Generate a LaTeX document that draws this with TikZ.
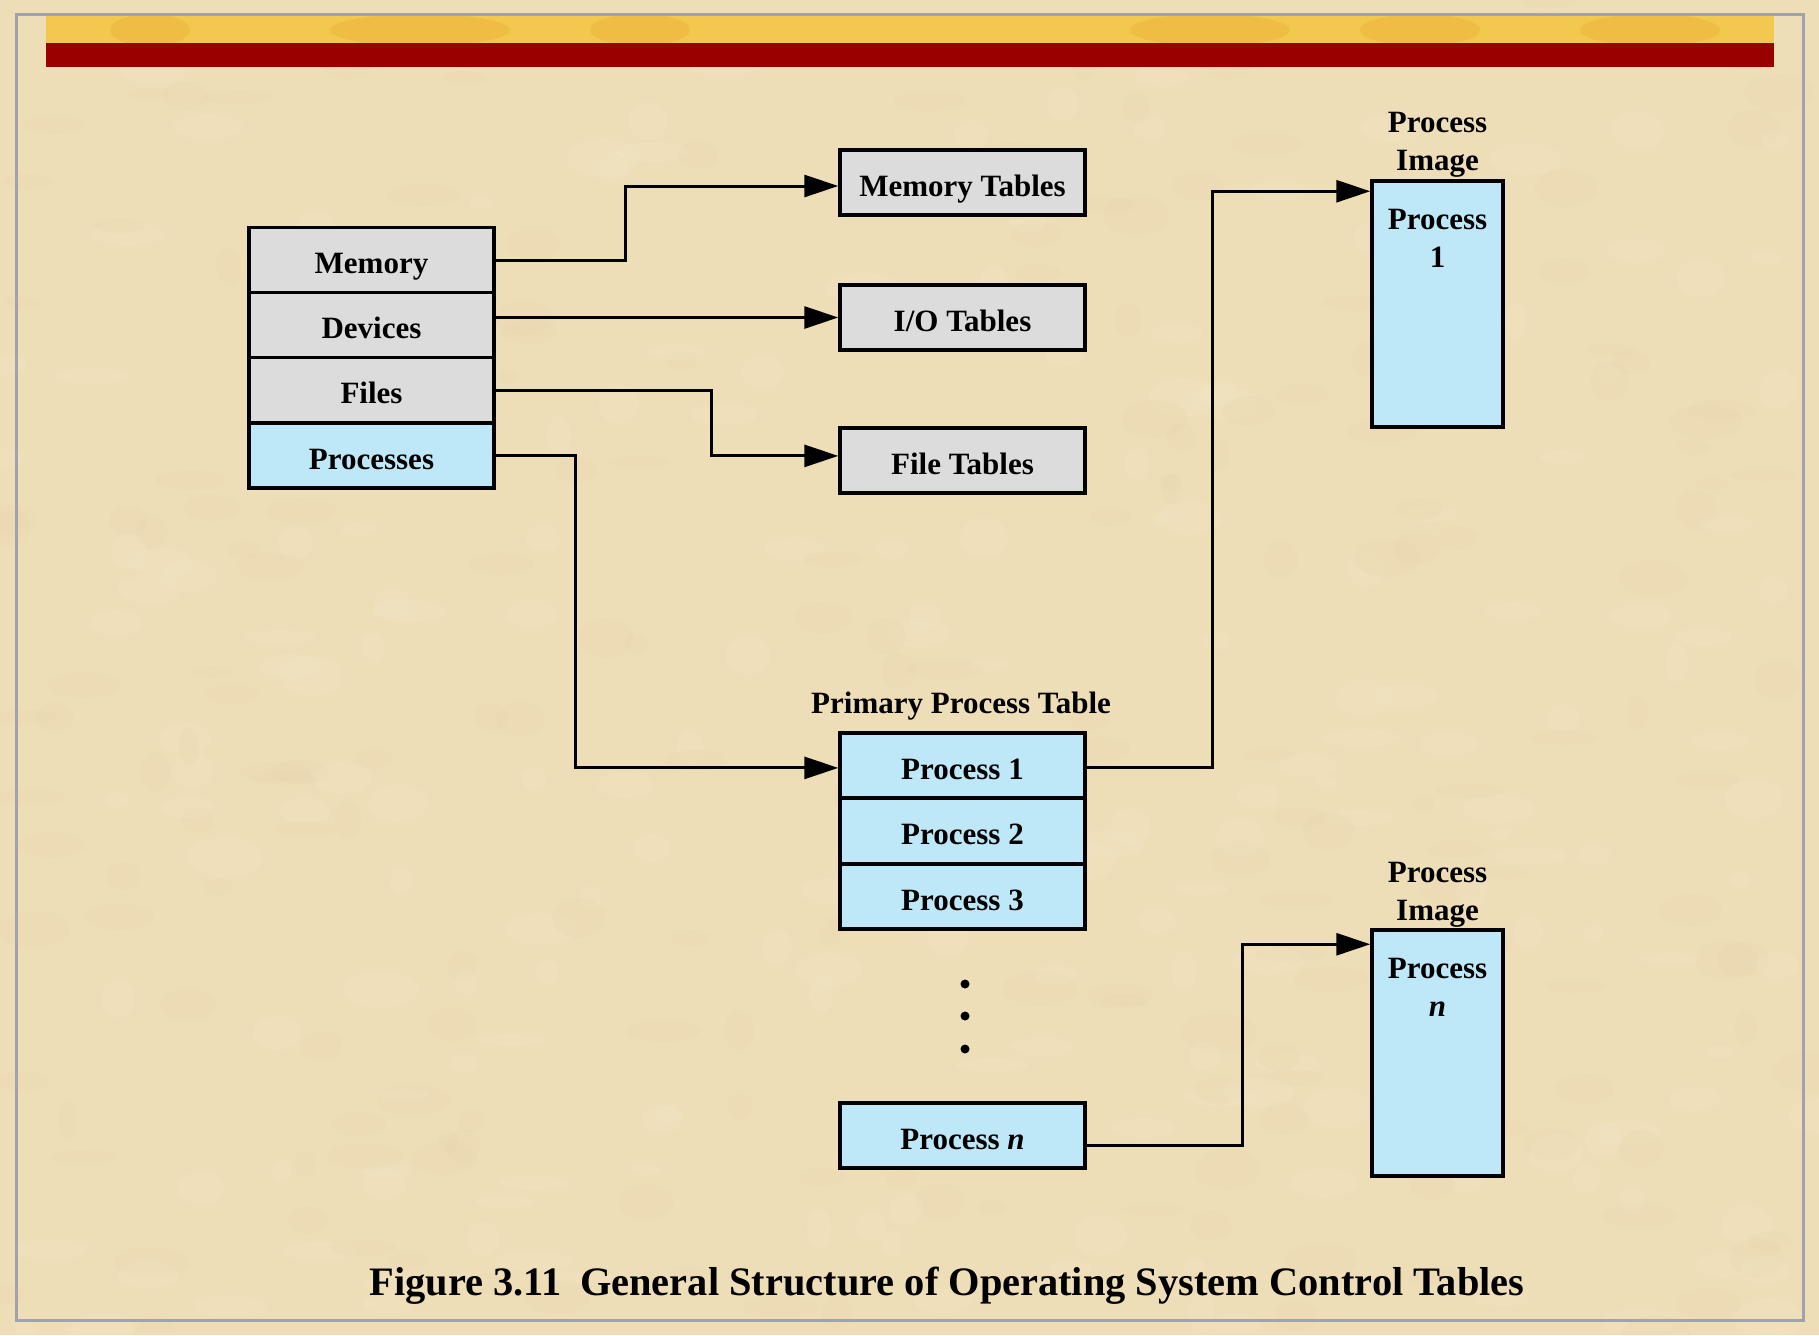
\documentclass[tikz,border=0pt]{standalone}
\usepackage{fontspec}
\setmainfont{Liberation Serif}
\usetikzlibrary{arrows.meta}

\definecolor{paper}{RGB}{238,222,184}
\definecolor{paperlight}{RGB}{248,236,208}
\definecolor{paperdark}{RGB}{226,204,160}
\definecolor{framegray}{RGB}{160,164,170}
\definecolor{bandyellow}{RGB}{243,200,78}
\definecolor{bandorange}{RGB}{230,160,40}
\definecolor{barred}{RGB}{153,0,0}
\definecolor{cellgray}{RGB}{220,220,220}
\definecolor{cellblue}{RGB}{190,232,248}

\newcommand{\lblfont}{\fontsize{15.5}{19}\selectfont\bfseries}
\newcommand{\capfont}{\fontsize{20.2}{24}\selectfont\bfseries}

\begin{document}
\begin{tikzpicture}[x=0.5pt,y=-0.5pt,
  cell/.style={draw, line width=1.75pt, minimum width=122.5pt, minimum height=32.5pt,
               inner sep=0pt, text height=15pt, text depth=1.3pt, font=\lblfont},
  greycell/.style={cell, fill=cellgray},
  bluecell/.style={cell, fill=cellblue},
  imagebox/.style={draw, line width=1.75pt, fill=cellblue, minimum width=65.5pt,
                   minimum height=123pt, inner sep=0pt},
  lbl/.style={font=\lblfont, align=center, inner sep=0pt},
  conn/.style={line width=1.5pt, -{Triangle[length=17pt,width=11pt]}}]

% page background with a faint mottled texture
\useasboundingbox (0,0) rectangle (1819,1335);
\fill[paper] (0,0) rectangle (1819,1335);
\pgfmathsetseed{4711}
\begin{scope}
  \clip (0,0) rectangle (1819,1335);
  \foreach \i in {1,...,420} {
    \pgfmathsetmacro{\px}{random(0,1819)}
    \pgfmathsetmacro{\py}{random(0,1335)}
    \pgfmathsetmacro{\rx}{random(10,38)}
    \pgfmathsetmacro{\ry}{random(6,20)}
    \pgfmathsetmacro{\tone}{random(0,1)}
    \ifdim\tone pt>0.5pt
      \fill[paperlight, opacity=0.16] (\px,\py) ellipse ({\rx} and {\ry});
    \else
      \fill[paperdark, opacity=0.12] (\px,\py) ellipse ({\rx} and {\ry});
    \fi
  }
\end{scope}
\draw[framegray, line width=1.5pt] (16,14) rectangle (1803,1320);

% title band
\fill[bandyellow] (46,16) rectangle (1774,43);
\begin{scope}
  \clip (46,16) rectangle (1774,43);
  \foreach \bx/\bw in {420/90, 640/50, 1210/80, 1420/60, 1650/70, 150/40} {
    \fill[bandorange, opacity=0.25] (\bx,30) ellipse ({\bw} and 16);
  }
\end{scope}
\fill[barred] (46,43) rectangle (1774,67);

% resource table (left stack)
\node[greycell] (mem) at (371.5,260)   {Memory};
\node[greycell] (dev) at (371.5,325)   {Devices};
\node[greycell] (fil) at (371.5,390)   {Files};
\node[bluecell] (prc) at (371.5,455.5) {Processes};

% per-resource tables
\node[greycell] (memtab) at (962.5,182.5) {Memory Tables};
\node[greycell] (iotab)  at (962.5,317.5) {I/O Tables};
\node[greycell] (filtab) at (962.5,460.5) {File Tables};

% primary process table
\node[lbl] (ppt) at (961,706.5) {Primary Process Table};
\node[bluecell] (pp1) at (962.5,765.5) {Process 1};
\node[bluecell] (pp2) at (962.5,831)   {Process 2};
\node[bluecell] (pp3) at (962.5,896.5) {Process 3};
\node[bluecell] (ppn) at (962.5,1135.5) {Process {\itshape n}};

% ellipsis between rows
\fill (965,984) circle (4.5);
\fill (965,1016) circle (4.5);
\fill (965,1049) circle (4.5);

% process images
\node[imagebox] (img1) at (1437.5,304) {};
\node[lbl] (img1cap) at ([yshift=17pt]img1.north) {Process\\Image};
\node[lbl] (img1txt) at ([yshift=-29.5pt]img1.north) {Process\\1};

\node[imagebox] (imgn) at (1437.5,1053) {};
\node[lbl] (imgncap) at ([yshift=17pt]imgn.north) {Process\\Image};
\node[lbl] (imgntxt) at ([yshift=-29.5pt]imgn.north) {Process\\{\itshape n}};

% connectors
\draw[conn] (mem.east) -- ++(130,0) |- ([yshift=-1.75pt]memtab.west);
\draw[conn] (dev.east |- iotab.west) -- (iotab.west);
\draw[conn] (fil.east) -- ++(216,0) |- ([yshift=2.3pt]filtab.west);
\draw[conn] (prc.east) -- ++(80,0) |- ([yshift=-1.2pt]pp1.west);
\draw[conn] ([yshift=-1.2pt]pp1.east) -- ++(126,0) |- ([yshift=-6pt]img1.north west);
\draw[conn] ([yshift=-5.2pt]ppn.east) -- ++(156,0) |- ([yshift=-8pt]imgn.north west);

% caption
\node[font=\capfont, inner sep=0pt] (caption) at (947,1286)
  {Figure 3.11\hspace{0.45em}General Structure of Operating System Control Tables};
\end{tikzpicture}
\end{document}
